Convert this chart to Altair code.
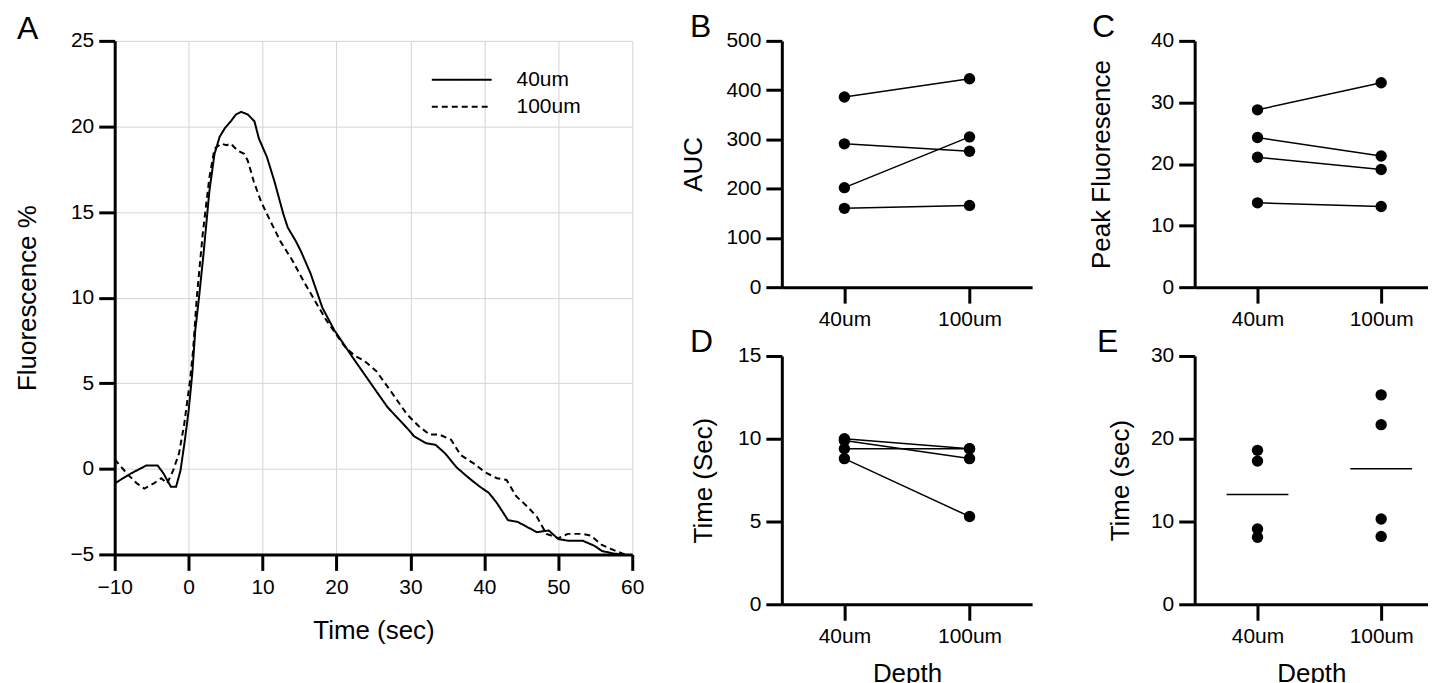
import altair as alt
import pandas as pd

FONT = "Liberation Sans, Arial, sans-serif"

# ---------------- Panel A: fluorescence traces ----------------
time_40 = [-10, -7.8, -5.7, -4.2, -3.4, -2.4, -1.7, -1.1, -0.5, 0, 0.5, 0.9, 1.4, 2.0, 2.8, 3.5,
           4.2, 4.9, 5.7, 6.4, 7.1, 8.0, 8.9, 9.5, 10.6, 11.6, 12.8, 13.4, 14.5, 15.2, 16.5,
           18.1, 19.7, 22.2, 24.3, 26.9, 29.5, 30.5, 32.1, 33.4, 34.7, 36.2, 37.8, 39.4, 40.6,
           41.7, 43.2, 44.5, 45.8, 47.1, 48.7, 50.0, 51.3, 53.3, 54.9, 55.9, 57.5, 59.0]
fluo_40 = [-0.85, -0.27, 0.2, 0.2, -0.27, -1.05, -1.05, -0.1, 1.7, 3.4, 5.6, 8.1, 10.0, 12.5, 16.2, 18.4,
           19.4, 19.9, 20.3, 20.7, 20.85, 20.7, 20.3, 19.3, 18.2, 16.8, 14.9, 14.1, 13.3, 12.7, 11.4,
           9.4, 8.1, 6.5, 5.2, 3.6, 2.4, 1.9, 1.5, 1.4, 0.9, 0.1, -0.5, -1.05, -1.4,
           -2.0, -3.0, -3.1, -3.4, -3.7, -3.6, -4.1, -4.2, -4.2, -4.5, -4.8, -4.95, -5.0]

time_100 = [-10, -8.3, -7.0, -6.0, -4.7, -3.7, -2.9, -2.1, -1.3, -0.6, 0.2, 0.6, 1.1, 1.9, 2.8, 3.5,
            4.4, 5.1, 5.7, 6.6, 7.5, 8.0, 8.8, 9.8, 10.8, 12.4, 14.0, 15.5, 17.1, 18.6, 20.2,
            21.2, 22.5, 23.8, 25.4, 27.4, 29.5, 31.1, 32.6, 33.9, 35.5, 36.8, 38.6, 40.1, 41.7,
            43.0, 44.3, 45.8, 47.1, 48.4, 50.0, 51.3, 53.3, 54.4, 55.9, 57.5, 59.0]
fluo_100 = [0.55, -0.3, -0.85, -1.15, -0.85, -0.55, -0.85, -0.1, 0.9, 2.6, 5.2, 6.9, 10.0, 13.7, 17.0, 18.7,
            19.0, 18.9, 19.0, 18.6, 18.4, 18.0, 16.8, 15.6, 14.7, 13.3, 12.2, 11.0, 9.8, 8.7, 7.7,
            7.1, 6.6, 6.3, 5.7, 4.5, 3.2, 2.5, 2.0, 2.0, 1.7, 0.8, 0.3, -0.2, -0.55,
            -0.65, -1.6, -2.2, -2.8, -3.8, -4.05, -3.8, -3.8, -3.9, -4.45, -4.75, -5.0]

# ---------------- Panels B-E: per-animal values ----------------
depths = ["40um", "100um"]
auc_40 = [386, 291, 202, 160]
auc_100 = [423, 276, 305, 166]
peak_40 = [28.8, 24.3, 21.1, 13.7]
peak_100 = [33.2, 21.3, 19.1, 13.1]
ttp_40 = [10.0, 9.9, 9.4, 8.8]
ttp_100 = [9.4, 8.8, 9.4, 5.3]
decay_40 = [18.6, 17.3, 9.1, 8.1]
decay_100 = [25.3, 21.7, 10.3, 8.2]

BLACK = "#000000"


def paired_df(v40, v100):
    rows = []
    for i, (a, b) in enumerate(zip(v40, v100)):
        rows.append({"subject": i, "depth": depths[0], "v": a})
        rows.append({"subject": i, "depth": depths[1], "v": b})
    return pd.DataFrame(rows)


dfA = pd.concat([
    pd.DataFrame({"t": time_40, "f": fluo_40, "depth": "40um", "order": range(len(time_40))}),
    pd.DataFrame({"t": time_100, "f": fluo_100, "depth": "100um", "order": range(len(time_100))}),
])

axis_common = dict(domainColor=BLACK, domainWidth=3, tickColor=BLACK, tickWidth=3, tickSize=16,
                   labelFontSize=21, labelColor=BLACK, labelFont=FONT, labelPadding=5,
                   titleFont=FONT, titleFontSize=26, titleFontWeight="normal", titleColor=BLACK,
                   grid=False)


def ax(**kw):
    d = dict(axis_common)
    d.update(kw)
    return alt.Axis(**d)


def letter(t, dx, off=-39):
    return alt.TitleParams(text=t, anchor="start", frame="group", dx=dx, offset=off,
                           fontSize=32, font=FONT, fontWeight="normal", color=BLACK,
                           baseline="alphabetic")


chartA = alt.Chart(dfA, title=letter("A", -98, -41)).mark_line(strokeWidth=2, color=BLACK).encode(
    x=alt.X("t:Q", scale=alt.Scale(domain=[-10, 60], nice=False, zero=False),
            axis=ax(values=list(range(-10, 61, 10)), title="Time (sec)", grid=True,
                    gridColor="#d4d4d4", gridWidth=1, labelFlush=False, titlePadding=20,
                    labelPadding=6)),
    y=alt.Y("f:Q", scale=alt.Scale(domain=[-5, 25], nice=False, zero=False),
            axis=ax(values=list(range(-5, 26, 5)), title="Fluorescence %", grid=True,
                    gridColor="#d4d4d4", gridWidth=1, titlePadding=29)),
    strokeDash=alt.StrokeDash("depth:N",
                              scale=alt.Scale(domain=depths, range=[[1, 0], [6, 4]]),
                              legend=alt.Legend(title=None, orient="none", legendX=337, legendY=28,
                                                padding=0, symbolType="M-3,0H3", symbolSize=400,
                                                symbolStrokeWidth=2, symbolStrokeColor=BLACK,
                                                labelFontSize=21, labelFont=FONT, labelColor=BLACK,
                                                labelOffset=44, rowPadding=6)),
    order="order:Q",
).properties(width=519, height=515)


def xenc(width, show_title):
    if width > 240:
        sc = alt.Scale(type="point", domain=depths, padding=0.5)
    else:
        sc = alt.Scale(type="point", domain=depths, padding=0.4435, align=0.573)
    if show_title:
        a = ax(title="Depth", labelAngle=0, titlePadding=14)
    else:
        a = ax(title=None, labelAngle=0)
    return alt.X("depth:N", sort=depths, scale=sc, axis=a)


def yenc(field, title, dom, step, tpad):
    return alt.Y(field, title=title, scale=alt.Scale(domain=dom, nice=False, zero=True),
                 axis=ax(values=list(range(dom[0], dom[1] + 1, step)), titlePadding=tpad))


def paired(v40, v100, title, dom, step, tpad, lt, dx, width, height, xtitle):
    df = paired_df(v40, v100)
    base = alt.Chart(df)
    ln = base.mark_line(strokeWidth=1.5, color=BLACK).encode(
        x=xenc(width, xtitle), y=yenc("v:Q", title, dom, step, tpad), detail="subject:N")
    pt = base.mark_circle(size=130, color=BLACK, opacity=1).encode(
        x=xenc(width, xtitle), y=yenc("v:Q", title, dom, step, tpad))
    return alt.layer(ln, pt, title=letter(lt, dx)).properties(width=width, height=height)


chartB = paired(auc_40, auc_100, "AUC", [0, 500], 100, 20, "B", -92, 251, 247, False)
chartC = paired(peak_40, peak_100, "Peak Fluoresence", [0, 40], 10, 36, "C", -103, 234, 247, False)
chartD = paired(ttp_40, ttp_100, "Time (Sec)", [0, 15], 5, 21, "D", -92, 251, 249, True)

dfE = paired_df(decay_40, decay_100)
baseE = alt.Chart(dfE)
ptsE = baseE.mark_circle(size=130, color=BLACK, opacity=1).encode(
    x=xenc(234, True), y=yenc("v:Q", "Time (sec)", [0, 30], 10, 17))
meanE = baseE.mark_tick(size=62, thickness=1.5, color=BLACK).encode(
    x=xenc(234, True), y=yenc("mean(v):Q", "Time (sec)", [0, 30], 10, 17))
chartE = alt.layer(ptsE, meanE, title=letter("E", -98)).properties(width=234, height=249)

colBD = alt.vconcat(chartB, chartD, spacing=69, bounds="flush")
colCE = alt.vconcat(chartC, chartE, spacing=69, bounds="flush")

chart = alt.hconcat(chartA, alt.hconcat(colBD, colCE, spacing=56), spacing=35).properties(
    padding={"left": 7, "top": 2, "right": 0, "bottom": 0}
).configure(font=FONT, background="white").configure_view(stroke=None)

chart.save("out.html", embed_options={"renderer": "svg", "actions": False})
